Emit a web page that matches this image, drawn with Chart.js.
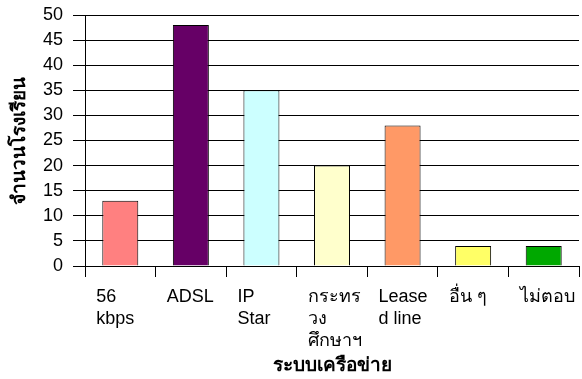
<!DOCTYPE html>
<html>
<head>
<meta charset="utf-8">
<script src="https://cdn.jsdelivr.net/npm/chart.js@4"></script>
<style>
  html, body { margin: 0; padding: 0; background: #fff; }
  #wrap { width: 582px; height: 379px; }
</style>
</head>
<body>
<div id="wrap"><canvas id="chart"></canvas></div>
<script>
// categories (each one split into the lines it wraps to)
const CATEGORIES = [
  ['56', 'kbps'],
  ['ADSL'],
  ['IP', 'Star'],
  ['กระทร', 'วง', 'ศึกษาฯ'],
  ['Lease', 'd line'],
  ['อื่น ๆ'],
  ['ไม่ตอบ'],
]
const SCHOOLS = [13, 48, 35, 20, 28, 4, 4]
const BAR_COLORS = ['#FF8080', '#660066', '#CCFFFF', '#FFFFCC', '#FF9966', '#FFFF66', '#00A800']
const Y_TICKS = [0, 5, 10, 15, 20, 25, 30, 35, 40, 45, 50]

const FONT = "'Liberation Sans', Arial, 'Noto Sans', sans-serif"
Chart.defaults.font.family = FONT
Chart.defaults.color = '#000'

const ctx = document.getElementById('chart')
new Chart(ctx, {
  type: 'bar',
  data: {
    labels: CATEGORIES,
    datasets: [{
      data: SCHOOLS,
      backgroundColor: BAR_COLORS,
      borderColor: '#000',
      borderWidth: 1,
      barPercentage: 0.51,
      categoryPercentage: 1,
    }]
  },
  options: {
    responsive: true,
    maintainAspectRatio: false,
    animation: false,
    layout: { padding: { top: 15, right: 3, left: 0, bottom: 0 } },
    plugins: { legend: { display: false }, tooltip: { enabled: false } },
    scales: {
      x: {
        grid: { offset: true, drawOnChartArea: false, drawTicks: true, tickLength: 11, color: '#000' },
        border: { color: '#000' },
        ticks: {
          align: 'start', labelOffset: -24, padding: 9,
          maxRotation: 0, minRotation: 0, autoSkip: false,
          font: { size: 18, lineHeight: 1.22 }, color: '#000',
        },
        title: {
          display: true, text: 'ระบบเครือข่าย',
          font: { size: 19, weight: 'bold' }, color: '#000', padding: { top: 0, bottom: 2 },
        },
        afterFit: (scale) => {
          scale.height = 113
          scale.paddingLeft = 0
          scale.paddingRight = 0
        },
      },
      y: {
        min: 0, max: 50,
        afterBuildTicks: (scale) => { scale.ticks = Y_TICKS.map(v => ({value: v})) },
        grid: { color: '#000', tickLength: 12 },
        border: { color: '#000' },
        ticks: { padding: 10, autoSkip: false, font: { size: 18 }, color: '#000' },
        title: {
          display: true, text: 'จำนวนโรงเรียน',
          font: { size: 19, weight: 'bold' }, color: '#000', padding: { top: 8, bottom: 0 },
        },
        afterFit: (scale) => {
          scale.width = 85
          scale.paddingTop = 0
          scale.paddingBottom = 0
        },
      },
    },
  },
})
</script>
</body>
</html>
